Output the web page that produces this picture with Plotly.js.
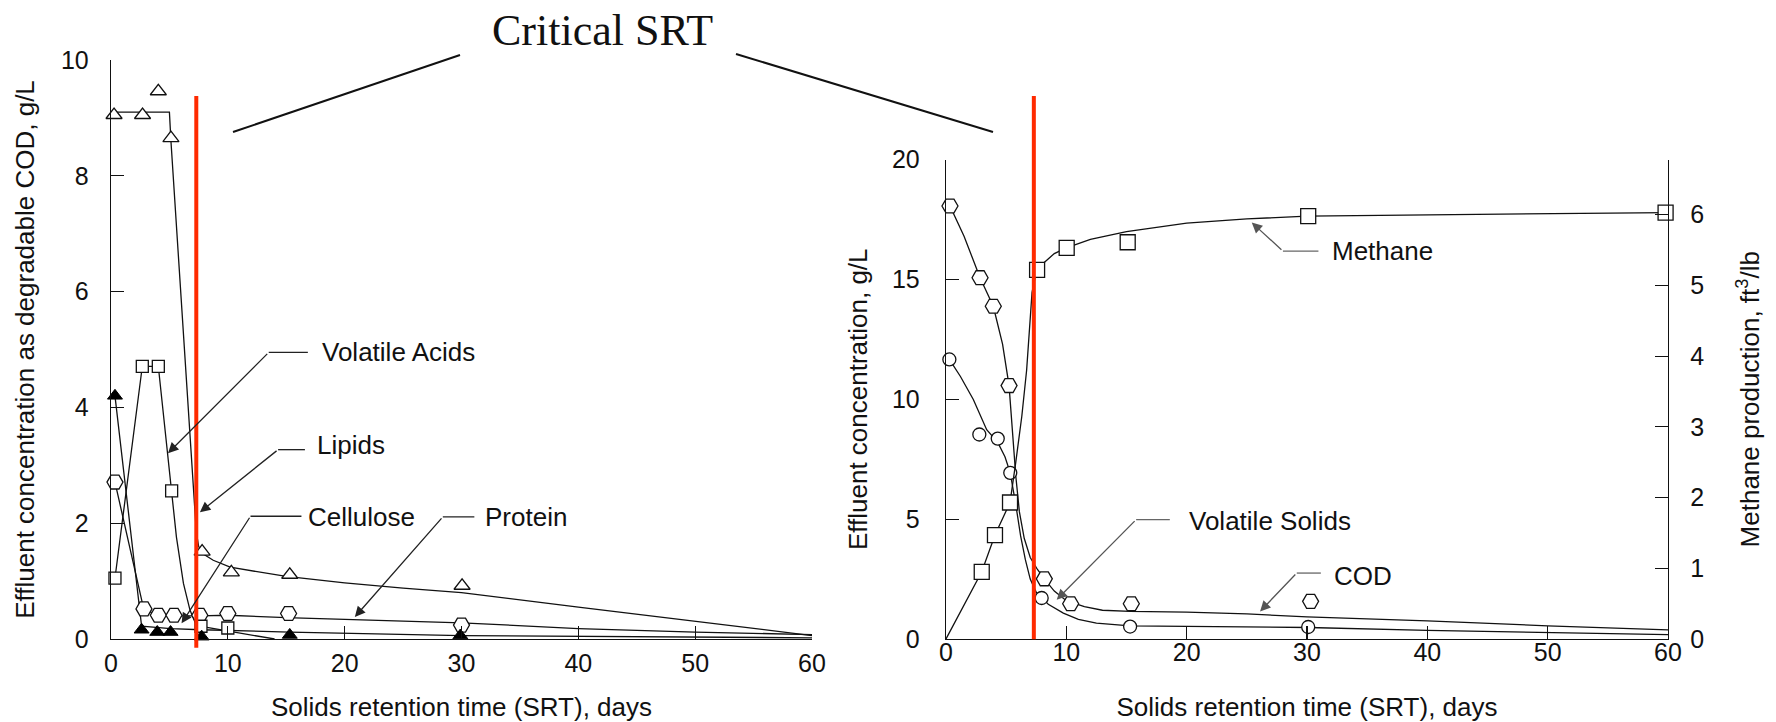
<!DOCTYPE html>
<html><head><meta charset="utf-8">
<script src="https://cdn.plot.ly/plotly-3.0.1.min.js"></script>
<style>html,body{margin:0;padding:0;background:#fff}#chart{width:1776px;height:722px}</style>
</head><body><div id="chart"></div>
<script>
// ---------- Left panel: effluent concentration as degradable COD (g/L) ----------
const lipidsSRT = [0.26, 2.7, 4.05, 5.13, 7.8, 10.3, 15.3, 30.05];
const lipidsCOD = [9.05, 9.05, 9.46, 8.65, 1.51, 1.15, 1.11, 0.92];
const lipidsFitSRT = [0, 5.0, 5.13, 7.3, 7.5, 7.8, 8.75, 10.2, 15, 20, 25, 30, 40, 50, 60];
const lipidsFit    = [9.1, 9.1, 8.6, 1.85, 1.6, 1.48, 1.36, 1.24, 1.08, 0.97, 0.88, 0.8, 0.55, 0.3, 0.06];

const acidsSRT = [0.34, 2.68, 4.05, 5.19, 7.7, 10.0];
const acidsCOD = [1.05, 4.71, 4.71, 2.56, 0.22, 0.19];
const acidsFitSRT = [0.34, 2.68, 4.05, 5.19, 5.6, 6.2, 6.76, 7.19, 7.6, 14];
const acidsFit    = [1.05, 4.71, 4.71, 2.56, 1.76, 0.96, 0.5, 0.29, 0.22, 0];

const proteinSRT = [0.34, 2.82, 4.05, 5.39, 7.6, 10.0, 15.2, 30.0];
const proteinCOD = [2.71, 0.52, 0.41, 0.41, 0.41, 0.44, 0.44, 0.24];
const proteinFitSRT = [0.34, 2.82, 4.05, 5.39, 7.6, 10, 15, 20, 30, 40, 50, 60];
const proteinFit    = [2.71, 0.5, 0.42, 0.4, 0.4, 0.41, 0.37, 0.34, 0.28, 0.18, 0.12, 0.076];

const celluloseSRT = [0.34, 2.62, 3.96, 5.1, 7.76, 15.3, 29.9];
const celluloseCOD = [4.2, 0.16, 0.12, 0.12, 0.04, 0.07, 0.06];
const celluloseFitSRT = [0.34, 2.62, 5.1, 7.7, 15.3, 30, 60];
const celluloseFit    = [4.2, 0.22, 0.18, 0.16, 0.12, 0.06, 0.02];

// ---------- Right panel: effluent concentration (g/L) and methane (ft3/lb) ----------
const codSRT = [0.33, 2.83, 3.93, 5.24, 8.17, 10.36, 15.4, 30.3];
const codConc = [18.06, 15.07, 13.88, 10.57, 2.51, 1.47, 1.47, 1.57];
const codFitSRT = [0, 0.33, 1.5, 2.83, 3.93, 4.7, 5.24, 5.5, 5.8, 6.1, 6.5, 7.0, 7.6, 8.17, 9.0, 10.0, 11.5, 13, 15.3, 20, 25, 30, 40, 50, 60];
const codFit    = [18.2, 18.06, 16.8, 15.07, 13.88, 12.3, 10.57, 8.8, 6.8, 5.3, 4.2, 3.4, 2.9, 2.51, 2.0, 1.6, 1.35, 1.2, 1.15, 1.12, 1.05, 0.92, 0.76, 0.55, 0.38];

const vsSRT = [0.28, 2.77, 4.3, 5.34, 7.95, 15.3, 30.1];
const vsConc = [11.66, 8.53, 8.36, 6.93, 1.71, 0.52, 0.5];
const vsFitSRT = [0, 0.28, 1.2, 2.27, 3.38, 4.3, 4.9, 5.34, 5.8, 6.2, 6.6, 7.0, 7.5, 7.95, 8.5, 9.75, 11, 12.5, 15.3, 20, 25.3, 30.1, 40, 50, 60];
const vsFit    = [11.9, 11.66, 10.95, 9.99, 8.73, 8.2, 7.6, 6.93, 5.6, 4.3, 3.3, 2.5, 1.95, 1.71, 1.45, 1.08, 0.82, 0.66, 0.55, 0.53, 0.5, 0.48, 0.36, 0.27, 0.18];

const methaneSRT = [2.97, 4.07, 5.32, 7.57, 10.03, 15.1, 30.1, 59.8];
const methaneProd = [0.95, 1.47, 1.93, 5.22, 5.53, 5.61, 5.98, 6.03];
const methaneFitSRT = [0, 2.97, 4.07, 5.32, 5.8, 6.3, 6.7, 7.0, 7.15, 7.45, 8.0, 9.0, 10, 12, 15, 20, 25, 30, 40, 50, 60];
const methaneFit    = [0, 0.95, 1.47, 1.93, 2.5, 3.15, 3.8, 4.45, 4.9, 5.15, 5.3, 5.45, 5.53, 5.65, 5.76, 5.88, 5.94, 5.98, 6.0, 6.02, 6.03];

const criticalSRT = 7.3;

// ---------- styling ----------
const FONT = 'Liberation Sans, Arial, Helvetica, sans-serif';
const lineStyle = {color: '#111', width: 1.3};
const openMarker = (symbol, size) => ({symbol, size, color: '#fff', line: {color: '#111', width: 1.3}});

function fit(x, y, xa, ya) {
  return {x, y, xaxis: xa, yaxis: ya, type: 'scatter', mode: 'lines', line: lineStyle, hoverinfo: 'skip', showlegend: false, cliponaxis: false};
}
function pts(x, y, xa, ya, marker, name) {
  return {x, y, xaxis: xa, yaxis: ya, type: 'scatter', mode: 'markers', marker, name, showlegend: false, cliponaxis: false};
}

const traces = [
  fit(lipidsFitSRT, lipidsFit, 'x', 'y'),
  fit(acidsFitSRT, acidsFit, 'x', 'y'),
  fit(proteinFitSRT, proteinFit, 'x', 'y'),
  fit(celluloseFitSRT, celluloseFit, 'x', 'y'),
  pts(proteinSRT, proteinCOD, 'x', 'y', openMarker('hexagon2', 16), 'Protein'),
  pts(lipidsSRT, lipidsCOD, 'x', 'y', openMarker('triangle-up', 14), 'Lipids'),
  pts(acidsSRT, acidsCOD, 'x', 'y', openMarker('square', 12), 'Volatile Acids'),
  pts(celluloseSRT, celluloseCOD, 'x', 'y', {symbol: 'triangle-up', size: 13, color: '#000', line: {color: '#000', width: 1}}, 'Cellulose'),

  fit(codFitSRT, codFit, 'x2', 'y2'),
  fit(vsFitSRT, vsFit, 'x2', 'y2'),
  fit(methaneFitSRT, methaneFit, 'x2', 'y3'),
  pts(codSRT, codConc, 'x2', 'y2', openMarker('hexagon2', 16), 'COD'),
  pts(vsSRT, vsConc, 'x2', 'y2', openMarker('circle', 13), 'Volatile Solids'),
  pts(methaneSRT, methaneProd, 'x2', 'y3', openMarker('square', 15), 'Methane')
];

// page geometry (pixels) -> paper coordinates
const W = 1776, H = 722;
const mL = 111, mR = 108, mT = 60, mB = 83;
const PW = W - mL - mR, PH = H - mT - mB;
const px = v => (v - mL) / PW;
const py = v => (H - mB - v) / PH;

const axisBase = {
  showline: true, linecolor: '#111', linewidth: 1.3, mirror: false,
  ticks: 'inside', ticklen: 13, tickwidth: 1.2, tickcolor: '#111',
  showgrid: false, zeroline: false,
  tickfont: {family: FONT, size: 25, color: '#111'}
};
const titleFont = {family: FONT, size: 26, color: '#111'};
const xTitleText = 'Solids retention time (SRT), days';

const layout = {
  width: W, height: H,
  margin: {l: mL, r: mR, t: mT, b: mB, autoexpand: false},
  paper_bgcolor: '#fff', plot_bgcolor: 'rgba(0,0,0,0)',
  showlegend: false,
  xaxis: Object.assign({}, axisBase, {domain: [0, px(812)], range: [0, 60], dtick: 10, anchor: 'y', ticklabelstandoff: 2,
    title: {text: xTitleText, font: titleFont, standoff: 26}}),
  yaxis: Object.assign({}, axisBase, {domain: [0, 1], range: [0, 10], dtick: 2, anchor: 'x', ticklabelstandoff: 16,
    title: {text: 'Effluent concentration as degradable COD, g/L', font: titleFont, standoff: 18}}),
  xaxis2: Object.assign({}, axisBase, {domain: [px(946), 1], range: [0, 60], dtick: 10, anchor: 'y2', ticklabelstandoff: -9,
    title: {text: xTitleText, font: titleFont, standoff: 35}}),
  yaxis2: Object.assign({}, axisBase, {domain: [0, py(159.5)], range: [0, 20], dtick: 5, anchor: 'x2', ticklabelstandoff: 20,
    title: {text: 'Effluent concentration, g/L', font: titleFont, standoff: 16}}),
  yaxis3: Object.assign({}, axisBase, {overlaying: 'y2', side: 'right', anchor: 'x2', range: [0, 6.78], dtick: 1, ticklabelstandoff: 16,
    title: {text: 'Methane production, ft<sup>3</sup>/lb', font: titleFont, standoff: 37}}),
  shapes: [
    // critical SRT markers
    {type: 'line', xref: 'x', yref: 'paper', x0: criticalSRT, x1: criticalSRT, y0: py(647.7), y1: py(96), line: {color: '#ff2a00', width: 4}},
    {type: 'line', xref: 'x2', yref: 'paper', x0: criticalSRT, x1: criticalSRT, y0: py(639.3), y1: py(96), line: {color: '#ff2a00', width: 4}},
    // lines from the "Critical SRT" caption
    {type: 'line', xref: 'paper', yref: 'paper', x0: px(460), y0: py(55), x1: px(233), y1: py(132), line: {color: '#111', width: 2}},
    {type: 'line', xref: 'paper', yref: 'paper', x0: px(736), y0: py(54), x1: px(993), y1: py(132), line: {color: '#111', width: 2}},
    // horizontal parts of the label leaders
    {type: 'line', xref: 'x', yref: 'y', x0: 13.5, x1: 16.85, y0: 4.95, y1: 4.95, line: {color: '#222', width: 1.3}},
    {type: 'line', xref: 'x', yref: 'y', x0: 14.3, x1: 16.6, y0: 3.27, y1: 3.27, line: {color: '#222', width: 1.3}},
    {type: 'line', xref: 'x', yref: 'y', x0: 11.94, x1: 16.3, y0: 2.12, y1: 2.12, line: {color: '#222', width: 1.3}},
    {type: 'line', xref: 'x', yref: 'y', x0: 28.4, x1: 31.1, y0: 2.11, y1: 2.11, line: {color: '#222', width: 1.3}},
    {type: 'line', xref: 'x2', yref: 'y2', x0: 28.0, x1: 30.95, y0: 16.18, y1: 16.18, line: {color: '#666', width: 1.3}},
    {type: 'line', xref: 'x2', yref: 'y2', x0: 15.8, x1: 18.6, y0: 4.98, y1: 4.98, line: {color: '#666', width: 1.3}},
    {type: 'line', xref: 'x2', yref: 'y2', x0: 29.15, x1: 31.15, y0: 2.75, y1: 2.75, line: {color: '#666', width: 1.3}}
  ],
  annotations: []
};

const labelFont = {family: FONT, size: 26, color: '#111'};
function leader(xa, ya, tipX, tipY, bendX, bendY, color) {
  return {xref: xa, yref: ya, axref: xa, ayref: ya, x: tipX, y: tipY, ax: bendX, ay: bendY, text: '',
    showarrow: true, arrowhead: 2, arrowsize: 1.6, arrowwidth: 1.3, arrowcolor: color, standoff: 0, startstandoff: 0};
}
function label(xa, ya, x, y, text) {
  return {xref: xa, yref: ya, x, y, text, showarrow: false, xanchor: 'left', yanchor: 'middle', font: labelFont};
}
layout.annotations.push(
  {xref: 'paper', yref: 'paper', x: px(602), y: py(30), text: 'Critical SRT', showarrow: false, xanchor: 'center', yanchor: 'middle',
   font: {family: 'Liberation Serif, Times New Roman, serif', size: 44, color: '#111'}},
  leader('x', 'y', 4.88, 3.21, 13.5, 4.95, '#222'), label('x', 'y', 17.9, 4.95, 'Volatile Acids'),
  leader('x', 'y', 7.61, 2.19, 14.3, 3.27, '#222'), label('x', 'y', 17.45, 3.35, 'Lipids'),
  leader('x', 'y', 6.04, 0.27, 11.94, 2.12, '#222'), label('x', 'y', 16.73, 2.11, 'Cellulose'),
  leader('x', 'y', 20.87, 0.38, 28.4, 2.11, '#222'), label('x', 'y', 31.8, 2.11, 'Protein'),
  leader('x2', 'y2', 25.41, 17.37, 28.0, 16.18, '#555'), label('x2', 'y2', 31.9, 16.2, 'Methane'),
  leader('x2', 'y2', 9.2, 1.64, 15.8, 4.98, '#555'), label('x2', 'y2', 20.0, 4.94, 'Volatile Solids'),
  leader('x2', 'y2', 26.1, 1.15, 29.15, 2.75, '#555'), label('x2', 'y2', 32.06, 2.63, 'COD')
);

Plotly.newPlot('chart', traces, layout, {staticPlot: true, displayModeBar: false});
</script></body></html>
